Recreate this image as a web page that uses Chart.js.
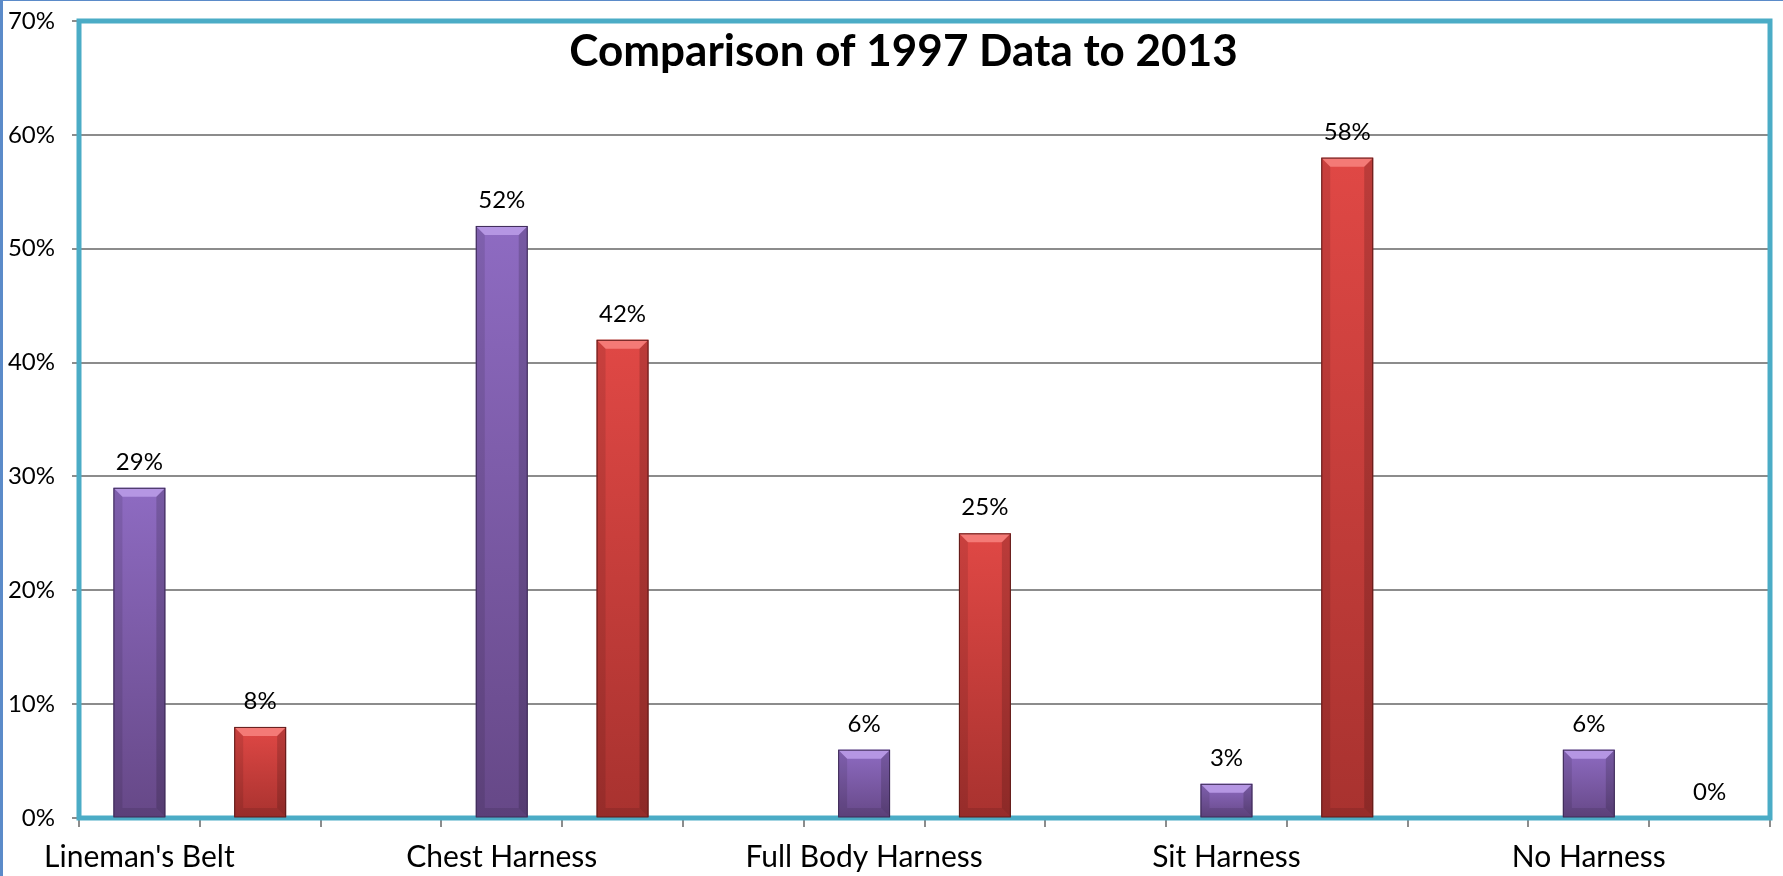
<!DOCTYPE html>
<html>
<head>
<meta charset="utf-8">
<script src="https://cdn.jsdelivr.net/npm/chart.js@4.4.1/dist/chart.umd.min.js"></script>
<style>
    html, body { margin: 0; padding: 0; background: #fff; }
    #wrap { width: 1783px; height: 876px; }
</style>
</head>
<body>
<div id="wrap"><canvas id="harnessChart" width="1783" height="876"></canvas></div>
<script>
// Chart data (percent)
var categories = ["Lineman's Belt", "Chest Harness", "Full Body Harness", "Sit Harness", "No Harness"];
var data1997 = [29, 52, 6, 3, 6];
var data2013 = [8, 42, 25, 58, 0];
var yTickValues = [0, 10, 20, 30, 40, 50, 60, 70];
var chartTitle = 'Comparison of 1997 Data to 2013';

var FONT = 'Lato, "Open Sans", sans-serif';

// The original sheet puts each bar in its own slot, with a blank slot between groups
var slotLabels = [];
var slotValues = [];
var slotSeries = [];
categories.forEach(function (name, i) {
    slotLabels.push(name);  slotValues.push(data1997[i]); slotSeries.push(0);
    slotLabels.push('');    slotValues.push(data2013[i]); slotSeries.push(1);
    if (i < categories.length - 1) {
        slotLabels.push(''); slotValues.push(null); slotSeries.push(0);
    }
});

var palette = [
    { light: '#8e6bc2', dark: '#664887', bevel: '#b596e3', edge: '#3c2a55' },
    { light: '#e04845', dark: '#a8322f', bevel: '#f47a76', edge: '#5e1a18' }
];

function barFill(ctx) {
    var chart = ctx.chart;
    var p = palette[slotSeries[ctx.dataIndex]];
    var v = ctx.raw;
    if (v == null || !chart.chartArea) return p.light;
    var yScale = chart.scales.y;
    var top = yScale.getPixelForValue(v);
    var bot = yScale.getPixelForValue(0);
    if (bot - top < 1) return p.light;
    var g = chart.ctx.createLinearGradient(0, top, 0, bot);
    g.addColorStop(0, p.light);
    g.addColorStop(1, p.dark);
    return g;
}

// white page, outer frame, plot border
var framePlugin = {
    id: 'frame',
    beforeDraw: function (chart) {
        var c = chart.ctx;
        c.save();
        c.fillStyle = '#fff';
        c.fillRect(0, 0, chart.width, chart.height);
        c.fillStyle = '#5b8bc9';
        c.fillRect(0, 0, 3, chart.height);
        c.fillRect(0, 0, chart.width, 1);
        c.restore();
    },
    beforeDatasetsDraw: function (chart) {
        var a = chart.chartArea;
        var c = chart.ctx;
        c.save();
        c.strokeStyle = '#4bacc6';
        c.lineWidth = 5;
        c.strokeRect(a.left, a.top, a.right - a.left, a.bottom - a.top);
        c.restore();
    }
};

// bevel look + value labels
var barDecor = {
    id: 'barDecor',
    afterDatasetsDraw: function (chart) {
        var c = chart.ctx;
        var meta = chart.getDatasetMeta(0);
        c.save();
        meta.data.forEach(function (bar, i) {
            var v = slotValues[i];
            if (v == null) return;
            var p = palette[slotSeries[i]];
            var props = bar.getProps(['x', 'y', 'base', 'width'], true);
            var l = props.x - props.width / 2, r = props.x + props.width / 2;
            var t = props.y, b = props.base;
            var h = b - t;
            if (h > 2) {
                var k = Math.min(9, h / 3);
                c.fillStyle = p.bevel;
                c.beginPath();
                c.moveTo(l, t); c.lineTo(r, t); c.lineTo(r - k, t + k); c.lineTo(l + k, t + k);
                c.closePath(); c.fill();
                c.fillStyle = 'rgba(0,0,0,0.10)';
                c.beginPath();
                c.moveTo(l, t); c.lineTo(l + k, t + k); c.lineTo(l + k, b - k); c.lineTo(l, b);
                c.closePath(); c.fill();
                c.fillStyle = 'rgba(0,0,0,0.16)';
                c.beginPath();
                c.moveTo(r, t); c.lineTo(r - k, t + k); c.lineTo(r - k, b - k); c.lineTo(r, b);
                c.closePath(); c.fill();
                c.fillStyle = 'rgba(0,0,0,0.10)';
                c.beginPath();
                c.moveTo(l, b); c.lineTo(r, b); c.lineTo(r - k, b - k); c.lineTo(l + k, b - k);
                c.closePath(); c.fill();
                c.strokeStyle = p.edge;
                c.lineWidth = 1;
                c.strokeRect(l + 0.5, t + 0.5, r - l - 1, h - 0.5);
            }
            c.fillStyle = '#000';
            c.font = '24px ' + FONT;
            c.textAlign = 'center';
            c.textBaseline = 'alphabetic';
            c.fillText(v + '%', props.x, t - 18);
        });
        c.restore();
    },
    afterDraw: function (chart) {
        var c = chart.ctx;
        var a = chart.chartArea;
        c.save();
        c.fillStyle = '#000';
        c.font = 'bold 44px ' + FONT;
        c.textAlign = 'center';
        c.textBaseline = 'alphabetic';
        c.fillText(chartTitle, (a.left + a.right) / 2 - 21, a.top + 45);
        c.restore();
    }
};

var ctx = document.getElementById('harnessChart').getContext('2d');
var harnessChart = new Chart(ctx, {
    type: 'bar',
    data: {
        labels: slotLabels,
        datasets: [{
            label: 'Harness type',
            data: slotValues,
            backgroundColor: barFill,
            borderWidth: 0,
            barPercentage: 0.43,
            categoryPercentage: 1
        }]
    },
    options: {
        responsive: false,
        animation: false,
        layout: { padding: { top: 21, right: 13, left: 0, bottom: 0 } },
        plugins: {
            legend: { display: false },
            title: { display: false },
            tooltip: { enabled: false }
        },
        scales: {
            x: {
                offset: true,
                grid: {
                    offset: true,
                    drawOnChartArea: false,
                    drawTicks: true,
                    tickLength: 9,
                    color: '#8c8c8c',
                    lineWidth: 2
                },
                border: { display: false },
                ticks: {
                    autoSkip: false,
                    maxRotation: 0,
                    color: '#000',
                    padding: 12,
                    font: { family: FONT, size: 30 }
                },
                afterFit: function (scale) { scale.height = 58; }
            },
            y: {
                min: 0,
                max: 70,
                afterBuildTicks: function (scale) {
                    scale.ticks = yTickValues.map(function (v) { return { value: v }; });
                },
                grid: {
                    color: '#8c8c8c',
                    lineWidth: 2,
                    tickLength: 7
                },
                border: { display: false },
                ticks: {
                    color: '#000',
                    padding: 17,
                    font: { family: FONT, size: 24 },
                    callback: function (v) { return v + '%'; }
                },
                afterFit: function (scale) {
                    scale.width = 79;
                    scale.paddingTop = 0;
                    scale.paddingBottom = 0;
                }
            }
        }
    },
    plugins: [framePlugin, barDecor]
});
</script>
</body>
</html>
